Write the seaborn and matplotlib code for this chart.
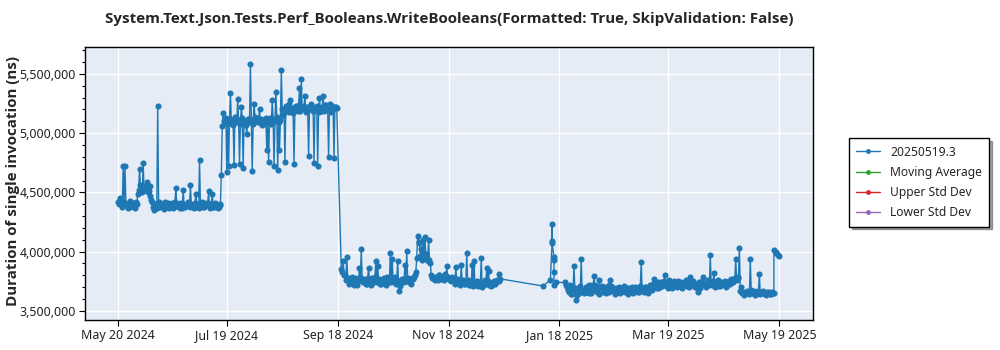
import pandas as pd
import matplotlib
matplotlib.use("Agg")
import matplotlib.pyplot as plt
import matplotlib.ticker as mticker
import matplotlib.dates as mdates
from matplotlib import font_manager
from matplotlib.lines import Line2D
import seaborn as sns

TITLE = "System.Text.Json.Tests.Perf_Booleans.WriteBooleans(Formatted: True, SkipValidation: False)"
Y_LABEL = "Duration of single invocation (ns)"
SERIES_NAME = "20250519.3"
EXTRA_SERIES = ["Moving Average", "Upper Std Dev", "Lower Std Dev"]

# Results in thousands of ns: a first and a second run per day
summer_start = "2024-05-20"
summer_k = [
    4420, 4440, 4400, 4720, 4720, 4390, 4410, 4380, 4400, 4390,
    4420, 4490, 4700, 4540, 4750, 4520, 4590, 4510, 4550, 4420,
    4350, 4400, 5230, 4410, 4390, 4380, 4420, 4400, 4370, 4390,
    4410, 4380, 4540, 4400, 4370, 4390, 4520, 4380, 4400, 4410,
    4560, 4390, 4370, 4490, 4400, 4770, 4390, 4380, 4410, 4400,
    4510, 4390, 4490, 4380, 4400, 4370, 4390, 4650, 5170, 5090,
    4670, 4720, 5340, 5110, 4730, 5130, 5290, 4740, 5220, 4710,
    5100, 4990, 5120, 5580, 4680, 5250, 5110, 5090, 5200, 5120,
    5080, 5100, 4860, 4760, 5130, 5280, 4720, 5350, 4690, 4860,
    5530, 5150, 4760, 5220, 5180, 5280, 5200, 4740, 5230, 5190,
    5380, 5460, 5210, 5310, 5190, 4810, 5230, 5200, 4750, 5220,
    4720, 5300, 5190, 5310, 5240, 5200, 4800, 5250, 5230, 4790,
    5220,
]
summer_k2 = [
    4400, 4450, 4380, 4420, 4400, 4370, 4430, 4390, 4410, 4370,
    4400, 4520, 4560, 4500, 4530, 4550, 4500, 4470, 4440, 4380,
    4400, 4370, 4420, 4380, 4400, 4360, 4390, 4410, 4380, 4400,
    4370, 4420, 4390, 4380, 4410, 4370, 4400, 4390, 4420, 4380,
    4400, 4380, 4410, 4390, 4370, 4400, 4420, 4380, 4390, 4410,
    4370, 4400, 4380, 4410, 4390, 4380, 4400, 5060, 5100, 5130,
    5080, 5120, 5100, 5070, 5140, 5090, 5110, 5080, 5130, 5100,
    5070, 5120, 5090, 5110, 5080, 5140, 5100, 5120, 5090, 5070,
    5110, 5130, 5090, 5100, 5080, 5120, 5100, 5140, 5090, 5110,
    5200, 5180, 5230, 5190, 5250, 5210, 5170, 5220, 5200, 5240,
    5190, 5210, 5230, 5180, 5220, 5200, 5250, 5190, 5210, 5230,
    5180, 5200, 5220, 5190, 5240, 5210, 5230, 5180, 5200, 5220,
    5210,
]

autumn_start = "2024-09-20"
autumn_k = [
    3850, 3920, 3800, 3955, 3760, 3740, 3790, 3720, 3750, 3770,
    3865, 4020, 3740, 3760, 3730, 3865, 3750, 3780, 3740, 3920,
    3880, 3760, 3730, 3770, 3750, 3790, 3740, 3990, 3940, 3760,
    3730, 3920, 3670, 3750, 3770, 3890, 4005, 3740, 3760, 3780,
    3790, 3830, 4130, 4070, 4020, 4100, 4120, 3950, 4100, 3900,
    3780, 3770, 3790, 3760, 3800, 3780, 3770, 3810, 3880, 3780,
    3760, 3790, 3750, 3870, 3770, 3740, 3890, 3760, 3730, 3990,
    3740, 3720, 3890, 3920, 3730, 3710, 3740, 3950, 3720, 3760,
    3860, 3840, 3730, 3720, 3750, 3740, 3760, 3810,
]
autumn_k2 = [
    3830, 3800, 3760, 3780, 3730, 3770, 3750, 3780, 3720, 3760,
    3790, 3750, 3770, 3730, 3780, 3750, 3720, 3760, 3790, 3740,
    3770, 3730, 3750, 3780, 3720, 3760, 3770, 3740, 3750, 3790,
    3760, 3740, 3710, 3770, 3740, 3760, 3780, 3750, 3730, 3770,
    3800, 3950, 4080, 3960, 3930, 3940, 3980, 3920, 3930, 3800,
    3790, 3760, 3780, 3800, 3770, 3790, 3760, 3780, 3790, 3770,
    3750, 3770, 3730, 3760, 3740, 3720, 3750, 3730, 3740, 3760,
    3720, 3740, 3710, 3730, 3750, 3720, 3730, 3700, 3740, 3730,
    3750, 3720, 3710, 3740, 3730, 3760, 3750, 3770,
]

january_dates = [
    "2025-01-09", "2025-01-13", "2025-01-14", "2025-01-14", "2025-01-14",
    "2025-01-15", "2025-01-15", "2025-01-15", "2025-01-15", "2025-01-16",
]
january_k = [3710, 3760, 4090, 4230, 4070, 3955, 3930, 3830, 3720, 3740]

spring_start = "2025-01-21"
spring_k = [
    3740, 3700, 3660, 3720, 3640, 3878, 3589, 3690, 3650, 3935,
    3680, 3660, 3700, 3650, 3690, 3720, 3794, 3680, 3700, 3758,
    3690, 3660, 3700, 3680, 3720, 3758, 3700, 3670, 3690, 3660,
    3680, 3690, 3670, 3660, 3690, 3680, 3660, 3700, 3680, 3670,
    3690, 3660, 3913, 3690, 3700, 3670, 3690, 3720, 3680, 3766,
    3720, 3690, 3730, 3740, 3720, 3800, 3710, 3700, 3720, 3690,
    3750, 3720, 3730, 3710, 3740, 3720, 3730, 3710, 3740, 3786,
    3720, 3730, 3700, 3660, 3740, 3720, 3786, 3730, 3720, 3740,
    3969, 3720, 3823, 3730, 3710, 3740, 3720, 3730, 3750, 3720,
    3740, 3730, 3760, 3770, 3941, 3780, 4034, 3700, 3660, 3650,
    3670, 3660, 3935, 3650, 3670, 3640, 3660, 3814, 3650, 3670,
    3640, 3660, 3650, 3640, 3660,
]
spring_k2 = [
    3720, 3680, 3700, 3640, 3670, 3690, 3630, 3660, 3710, 3670,
    3650, 3700, 3660, 3720, 3650, 3680, 3720, 3660, 3640, 3700,
    3710, 3680, 3650, 3700, 3660, 3710, 3680, 3640, 3670, 3700,
    3650, 3680, 3710, 3670, 3640, 3690, 3670, 3650, 3700, 3680,
    3660, 3710, 3680, 3660, 3700, 3650, 3680, 3710, 3730, 3700,
    3690, 3740, 3700, 3710, 3750, 3720, 3690, 3760, 3700, 3720,
    3740, 3700, 3750, 3720, 3690, 3730, 3760, 3710, 3700, 3740,
    3750, 3700, 3730, 3710, 3690, 3750, 3730, 3700, 3760, 3720,
    3730, 3750, 3700, 3730, 3760, 3710, 3740, 3730, 3700, 3740,
    3750, 3770, 3740, 3780, 3760, 3790, 3670, 3650, 3630, 3660,
    3650, 3640, 3680, 3660, 3630, 3650, 3670, 3640, 3660, 3650,
    3630, 3650, 3660, 3640, 3650,
]

may_dates = ["2025-05-16", "2025-05-16", "2025-05-17", "2025-05-17", "2025-05-18", "2025-05-19"]
may_k = [3650, 4010, 3990, 4000, 3970, 3960]

x_ticks = ["2024-05-20", "2024-07-19", "2024-09-18", "2024-11-18",
           "2025-01-18", "2025-03-19", "2025-05-19"]


def twice_daily(start, first, second):
    days = pd.date_range(start, periods=len(first))
    rows = []
    for d, a, b in zip(days, first, second):
        rows.append((d, a))
        rows.append((d + pd.Timedelta(hours=12), b))
    return pd.DataFrame(rows, columns=["date", "k"])


runs = pd.concat([
    twice_daily(summer_start, summer_k, summer_k2),
    twice_daily(autumn_start, autumn_k, autumn_k2),
    pd.DataFrame({"date": pd.to_datetime(january_dates), "k": january_k}),
    twice_daily(spring_start, spring_k, spring_k2),
    pd.DataFrame({"date": pd.to_datetime(may_dates), "k": may_k}),
], ignore_index=True)
runs["duration"] = runs["k"] * 1000.0


def family_with_bold(candidates):
    for fam in candidates:
        for f in font_manager.fontManager.ttflist:
            w = f.weight
            if isinstance(w, str):
                w = font_manager.weight_dict.get(w, 400)
            if f.name == fam and w >= 600:
                return fam
    return "DejaVu Sans"


sns.set_theme(style="darkgrid", rc={
    "axes.facecolor": "#E5ECF6",
    "grid.color": "white",
    "grid.linewidth": 1.0,
    "axes.edgecolor": "black",
    "axes.linewidth": 1.0,
})
plt.rcParams["font.family"] = ["Noto Sans", "DejaVu Sans"]
bold_fam = family_with_bold(["Noto Sans", "Open Sans", "Lato", "Roboto", "Liberation Sans"])

fig = plt.figure(figsize=(10, 3.5), dpi=100)
ax = fig.add_axes([0.085, 0.086, 0.728, 0.780])

blue = "#1f77b4"
sns.lineplot(data=runs, x="date", y="duration", estimator=None, sort=False,
             color=blue, linewidth=1.0, marker="o", markersize=4.4,
             markeredgewidth=0, ax=ax, legend=False)

ax.set_xlim(pd.Timestamp("2024-05-02"), pd.Timestamp("2025-06-06 12:00"))
ax.set_ylim(3424000, 5728000)

ax.set_xticks(pd.to_datetime(x_ticks))
ax.xaxis.set_major_formatter(mdates.DateFormatter("%b %d %Y"))
ax.yaxis.set_major_locator(mticker.MultipleLocator(500000))
ax.yaxis.set_minor_locator(mticker.MultipleLocator(100000))
ax.yaxis.set_major_formatter(mticker.FuncFormatter(lambda v, _: f"{v:,.0f}"))

ax.tick_params(axis="both", which="major", length=4, width=0.8, color="black",
               labelsize=8.9, labelcolor="#222222", bottom=True, left=True, pad=2.5)
ax.tick_params(axis="y", which="minor", length=2.5, width=0.8, color="black", left=True)
ax.grid(True, which="major", color="white", linewidth=1.0)
ax.grid(False, which="minor")
for side in ["left", "right", "top", "bottom"]:
    ax.spines[side].set_visible(True)
    ax.spines[side].set_color("black")
    ax.spines[side].set_linewidth(1.0)

ax.set_xlabel("")
ax.set_ylabel(Y_LABEL, fontsize=10.9, fontweight="bold", family=bold_fam)
ax.yaxis.set_label_coords(-0.089, 0.507)
fig.suptitle(TITLE, x=0.449, y=0.965, fontsize=10.9, fontweight="bold", family=bold_fam)

legend_colors = [blue, "#2ca02c", "#d62728", "#9467bd"]
labels = [SERIES_NAME] + EXTRA_SERIES
handles = [Line2D([0], [0], color=c, linewidth=1.0, marker="o", markersize=3.5,
                  markeredgewidth=0) for c in legend_colors]
leg = fig.legend(handles, labels, loc="upper left", bbox_to_anchor=(0.843, 0.622),
                 bbox_transform=fig.transFigure, fontsize=8.7, frameon=True,
                 fancybox=False, shadow=True, edgecolor="black", facecolor="white",
                 framealpha=1.0, handlelength=2.0, borderpad=0.6, labelspacing=0.6)
leg.get_frame().set_linewidth(1.0)

fig.savefig("out.png", dpi=100)
